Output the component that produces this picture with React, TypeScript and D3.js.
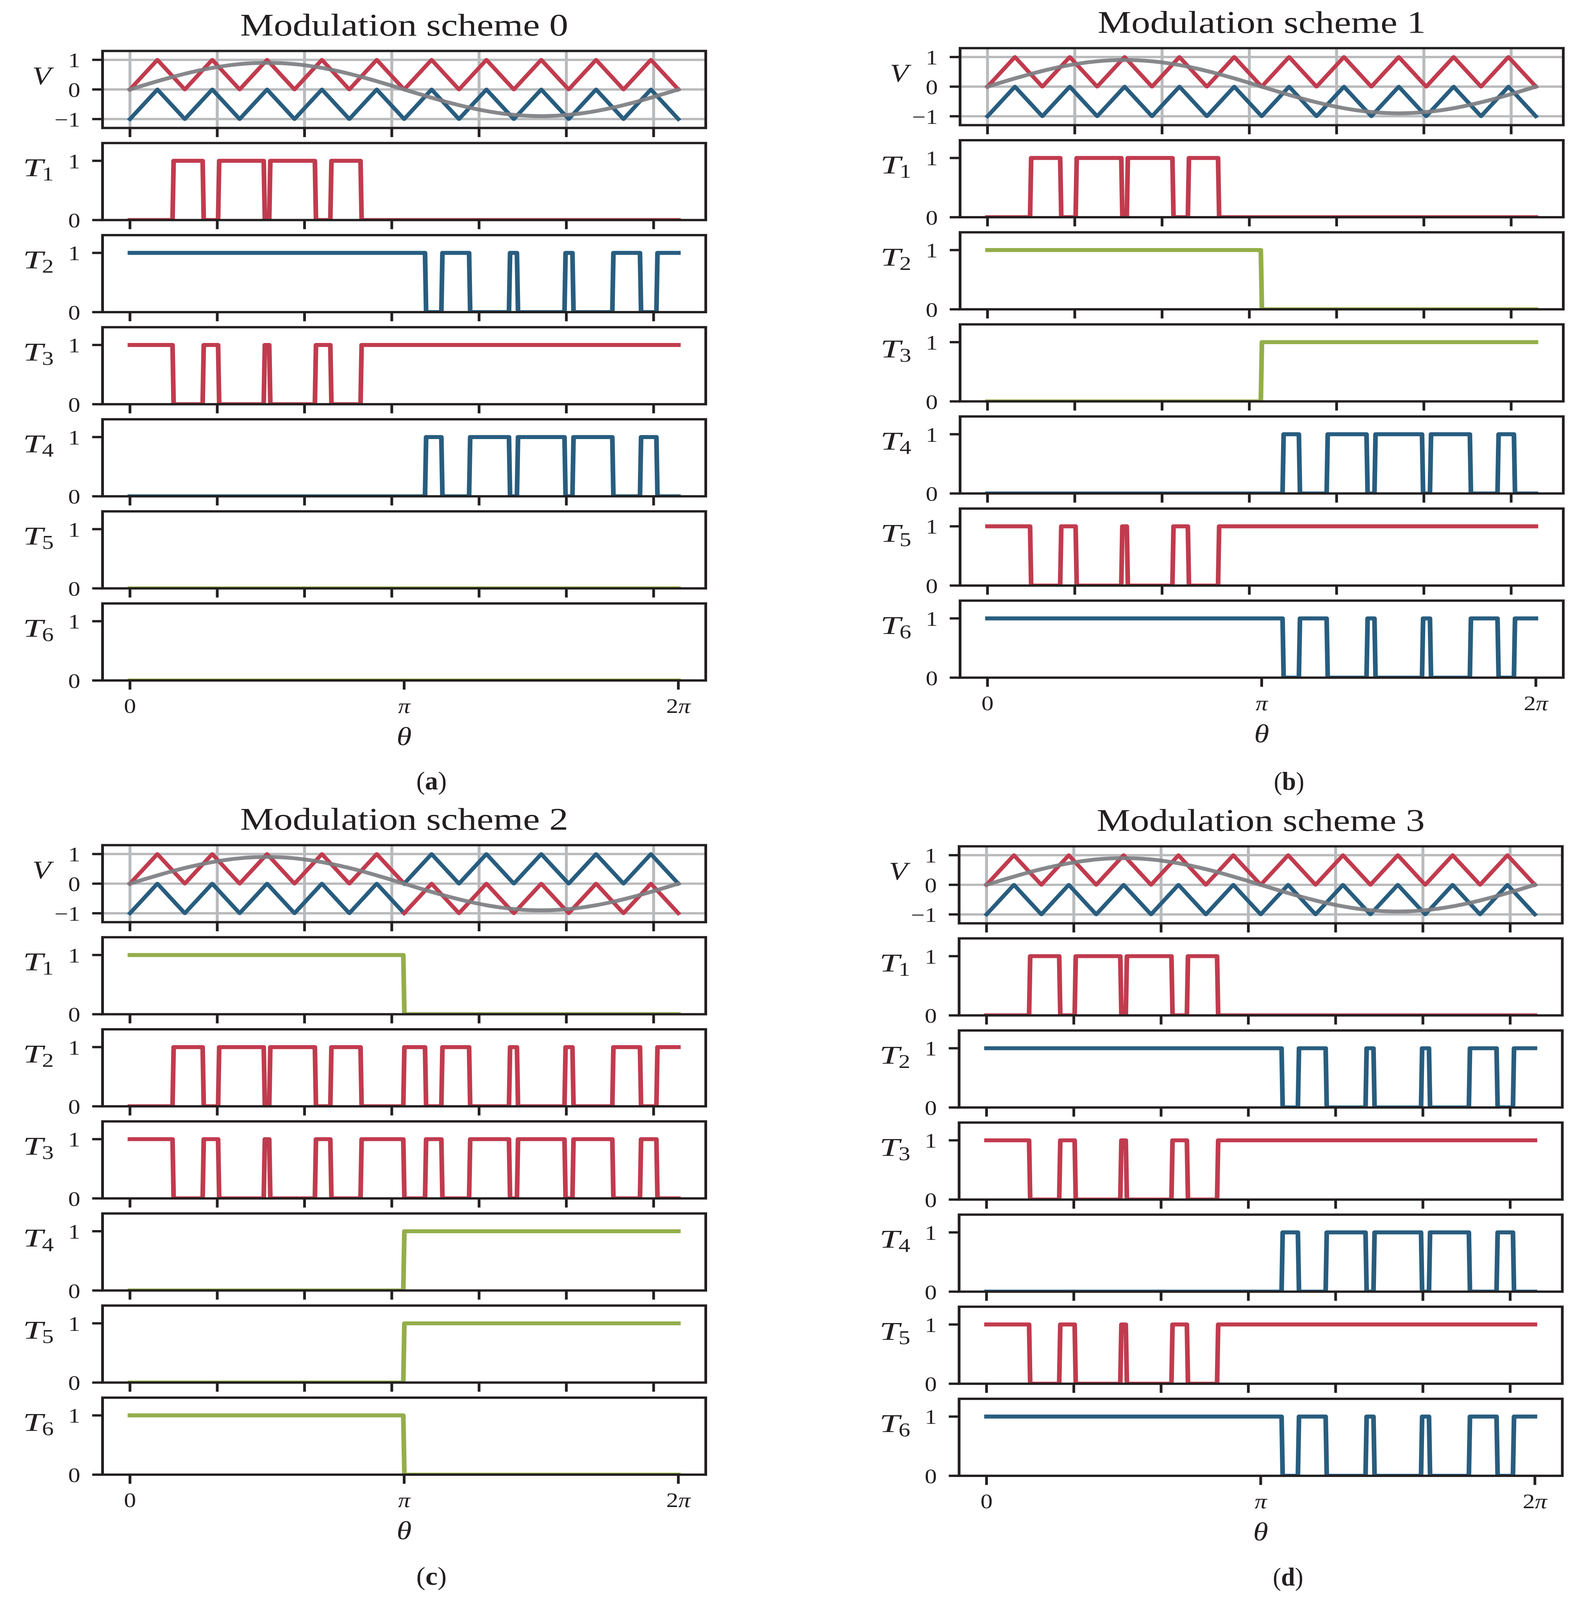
import React, { useRef, useEffect } from 'react';
import * as d3 from 'd3';

const PI = Math.PI;

// reference wave, read every pi/20
const sineValues = [
  0, 0.141, 0.278, 0.409, 0.529, 0.636, 0.728, 0.802, 0.856, 0.889, 0.9, 0.889, 0.856, 0.802, 0.728, 0.636, 0.529,
  0.409, 0.278, 0.141, 0, -0.141, -0.278, -0.409, -0.529, -0.636, -0.728, -0.802, -0.856, -0.889, -0.9, -0.889,
  -0.856, -0.802, -0.728, -0.636, -0.529, -0.409, -0.278, -0.141, 0,
];

// carrier corners, read every pi/10
const upperCarrier = [0, 1, 0, 1, 0, 1, 0, 1, 0, 1, 0, 1, 0, 1, 0, 1, 0, 1, 0, 1, 0];
const lowerCarrier = [-1, 0, -1, 0, -1, 0, -1, 0, -1, 0, -1, 0, -1, 0, -1, 0, -1, 0, -1, 0, -1];
const upperHalf = [0, 1, 0, 1, 0, 1, 0, 1, 0, 1, 0];
const lowerHalf = [-1, 0, -1, 0, -1, 0, -1, 0, -1, 0, -1];

// switching angles in radians
const upperEdges = [0.494, 0.839, 1.016, 1.539, 1.602, 2.125, 2.302, 2.648];
const lowerEdges = [3.387, 3.574, 3.892, 4.349, 4.44, 4.985, 5.076, 5.533, 5.85, 6.038];
const midEdge = [3.138];
const fullEdges = [...upperEdges, ...midEdge, ...lowerEdges];
const noEdges: number[] = [];

type Wave = [string, number, number[]];
type Switch = [number, number[], string];

const normalCarriers: Wave[] = [
  ['pos', 0, upperCarrier],
  ['neg', 0, lowerCarrier],
];
const swappedCarriers: Wave[] = [
  ['pos', 0, upperHalf],
  ['neg', 0, lowerHalf],
  ['neg', 10, upperHalf],
  ['pos', 10, lowerHalf],
];

const scheme0: Switch[] = [
  [0, upperEdges, 'pos'],
  [1, lowerEdges, 'neg'],
  [1, upperEdges, 'pos'],
  [0, lowerEdges, 'neg'],
  [0, noEdges, 'mid'],
  [0, noEdges, 'mid'],
];
const scheme1: Switch[] = [
  [0, upperEdges, 'pos'],
  [1, midEdge, 'mid'],
  [0, midEdge, 'mid'],
  [0, lowerEdges, 'neg'],
  [1, upperEdges, 'pos'],
  [1, lowerEdges, 'neg'],
];
const scheme2: Switch[] = [
  [1, midEdge, 'mid'],
  [0, fullEdges, 'pos'],
  [1, fullEdges, 'pos'],
  [0, midEdge, 'mid'],
  [0, midEdge, 'mid'],
  [1, midEdge, 'mid'],
];
const scheme3: Switch[] = [
  [0, upperEdges, 'pos'],
  [1, lowerEdges, 'neg'],
  [1, upperEdges, 'pos'],
  [0, lowerEdges, 'neg'],
  [1, upperEdges, 'pos'],
  [1, lowerEdges, 'neg'],
];

const titles = ['Modulation scheme 0', 'Modulation scheme 1', 'Modulation scheme 2', 'Modulation scheme 3'];
const captions = ['a', 'b', 'c', 'd'];
const voltageTicks = [-1, 0, 1];
const switchTicks = [0, 1];
const plainTicks = [0, 1, 2, 3, 4, 5, 6];
const labelledTicks = [0, PI, 2 * PI];

const layouts = [
  { left: 262.5, top: 153.5, capY: 2378, carriers: normalCarriers, switches: scheme0 },
  { left: 2457.5, top: 145, capY: 2380, carriers: normalCarriers, switches: scheme1 },
  { left: 262.5, top: 2546, capY: 4774, carriers: swappedCarriers, switches: scheme2 },
  { left: 2455, top: 2549.5, capY: 4777, carriers: normalCarriers, switches: scheme3 },
];

const INK = '#231f20';
const SERIF = '"Liberation Serif", serif';
const chartW = 4075;
const chartH = 4820;
const panelW = 1544;
const panelH = 232;
const panelStep = 277.4;
const ramp = 0.0126;

const waveColor = d3.scaleOrdinal<string, string>().domain(['pos', 'neg', 'mid']).range(['#c13b4e', '#285d7f', '#94ae4b']);

const switchPoints = (start: number, edges: number[]) => {
  const pts: [number, number][] = [[0, start]];
  let level = start;
  edges.forEach((e) => {
    pts.push([e - ramp / 2, level]);
    level = 1 - level;
    pts.push([e + ramp / 2, level]);
  });
  pts.push([2 * PI, level]);
  return pts;
};

const styleAxis = (g: any) => {
  g.select('.domain').remove();
  g.selectAll('.tick line').attr('stroke', INK);
  g.selectAll('text').attr('fill', INK).attr('font-family', SERIF).attr('font-size', 62);
};

export default function App() {
  const ref = useRef<SVGSVGElement>(null);

  useEffect(() => {
    document.body.style.margin = '0';
    const svg = d3.select(ref.current);
    svg.selectAll('*').remove();

    const x = d3.scaleLinear().domain([-PI / 10, 2 * PI + PI / 10]).range([0, panelW]);
    const yV = d3.scaleLinear().domain([-1.3, 1.3]).range([panelH, 0]);
    const yT = d3.scaleLinear().domain([0, 1.3]).range([panelH, 0]);

    layouts.forEach((layout, s) => {
      const fig = svg.append('g').attr('transform', `translate(${layout.left},${layout.top})`);

      fig
        .append('text')
        .attr('x', panelW / 2)
        .attr('y', -46.5)
        .attr('text-anchor', 'middle')
        .attr('font-family', SERIF)
        .attr('font-size', 94)
        .attr('fill', INK)
        .attr('textLength', 840)
        .attr('lengthAdjust', 'spacingAndGlyphs')
        .text(titles[s]);

      for (let i = 0; i < 7; i++) {
        const panel = fig.append('g').attr('transform', `translate(0,${i * panelStep})`);
        const clipId = `clip-${s}-${i}`;
        panel
          .append('clipPath')
          .attr('id', clipId)
          .append('rect')
          .attr('width', panelW)
          .attr('height', panelH);
        const plot = panel.append('g').attr('clip-path', `url(#${clipId})`);
        const y = i === 0 ? yV : yT;
        const line = d3
          .line<[number, number]>()
          .x((d) => x(d[0]))
          .y((d) => y(d[1]));

        if (i === 0) {
          plot
            .selectAll('.gx')
            .data(plainTicks)
            .join('line')
            .attr('x1', (d) => x(d))
            .attr('x2', (d) => x(d))
            .attr('y2', panelH)
            .attr('stroke', '#b9babc')
            .attr('stroke-width', 7.5);
          plot
            .selectAll('.gy')
            .data(voltageTicks)
            .join('line')
            .attr('x2', panelW)
            .attr('y1', (d) => y(d))
            .attr('y2', (d) => y(d))
            .attr('stroke', '#b9babc')
            .attr('stroke-width', 7);

          layout.carriers.forEach(([kind, offset, values]) => {
            plot
              .append('path')
              .attr('d', line(values.map((v, k) => [((offset + k) * PI) / 10, v])))
              .attr('fill', 'none')
              .attr('stroke', waveColor(kind))
              .attr('stroke-width', 11)
              .attr('stroke-linecap', 'square')
              .attr('stroke-linejoin', 'round');
          });
          plot
            .append('path')
            .attr('d', line.curve(d3.curveCatmullRom)(sineValues.map((v, k) => [(k * PI) / 20, v])))
            .attr('fill', 'none')
            .attr('stroke', '#7d7e82')
            .attr('stroke-opacity', 0.92)
            .attr('stroke-width', 11.5)
            .attr('stroke-linecap', 'square');
        } else {
          const [start, edges, kind] = layout.switches[i - 1];
          plot
            .append('path')
            .attr('d', line(switchPoints(start, edges)))
            .attr('fill', 'none')
            .attr('stroke', waveColor(kind))
            .attr('stroke-width', 12)
            .attr('stroke-linecap', 'square')
            .attr('stroke-linejoin', 'round');
        }

        panel
          .append('rect')
          .attr('width', panelW)
          .attr('height', panelH)
          .attr('fill', 'none')
          .attr('stroke', INK)
          .attr('stroke-width', 7);

        // axes
        const yAxis = panel
          .append('g')
          .call(
            d3
              .axisLeft(y)
              .tickValues(i === 0 ? voltageTicks : switchTicks)
              .tickSize(26.5)
              .tickSizeOuter(0)
              .offset(0)
              .tickFormat((d: any) => (d < 0 ? `\u2212${Math.abs(d)}` : `${d}`)),
          );
        styleAxis(yAxis);
        yAxis.selectAll('.tick line').attr('stroke-width', 7);
        yAxis.selectAll('text').attr('x', -57).attr('dy', '0.36em');

        const last = i === 6;
        const xAxis = panel
          .append('g')
          .attr('transform', `translate(0,${panelH})`)
          .call(
            d3
              .axisBottom(x)
              .tickValues(last ? labelledTicks : plainTicks)
              .tickSize(27.5)
              .tickSizeOuter(0)
              .offset(0)
              .tickFormat(() => ''),
          );
        styleAxis(xAxis);
        xAxis.selectAll('.tick line').attr('stroke-width', 7);
        if (last) {
          const texts = xAxis.selectAll('text').attr('y', 98).attr('dy', 0);
          texts.each(function (_d, k) {
            const t = d3.select(this);
            if (k === 0) t.text('0');
            if (k === 2) t.append('tspan').text('2');
            if (k > 0) t.append('tspan').attr('font-style', 'italic').text('\u03c0');
          });
          panel
            .append('text')
            .attr('x', x(PI))
            .attr('y', panelH + 194)
            .attr('text-anchor', 'middle')
            .attr('font-family', SERIF)
            .attr('font-style', 'italic')
            .attr('font-size', 78)
            .attr('fill', INK)
            .text('\u03b8');
        }

        // y label
        const label = panel
          .append('text')
          .attr('font-family', SERIF)
          .attr('font-style', 'italic')
          .attr('font-size', 78)
          .attr('fill', INK);
        if (i === 0) {
          label.attr('x', -132).attr('y', 101).attr('text-anchor', 'end').text('V');
        } else {
          label.attr('x', -204).attr('y', 100).attr('textLength', 52).attr('lengthAdjust', 'spacingAndGlyphs').text('T');
          panel
            .append('text')
            .attr('x', -155)
            .attr('y', 113)
            .attr('font-family', SERIF)
            .attr('font-size', 60)
            .attr('fill', INK)
            .text(i);
        }
      }

      const caption = svg
        .append('text')
        .attr('x', layout.left + 842)
        .attr('y', layout.capY)
        .attr('text-anchor', 'middle')
        .attr('font-family', SERIF)
        .attr('font-size', 78)
        .attr('textLength', 78)
        .attr('lengthAdjust', 'spacingAndGlyphs')
        .attr('fill', INK);
      caption.append('tspan').text('(');
      caption.append('tspan').attr('font-weight', 'bold').text(captions[s]);
      caption.append('tspan').text(')');
    });
  }, []);

  // the sandbox window stops at 4096px tall, so the 4820px layout is fitted into it
  return (
    <svg
      ref={ref}
      viewBox={`0 0 ${chartW} ${chartH}`}
      preserveAspectRatio="none"
      style={{ display: 'block', width: '100vw', height: '100vh', background: '#fff' }}
    />
  );
}
